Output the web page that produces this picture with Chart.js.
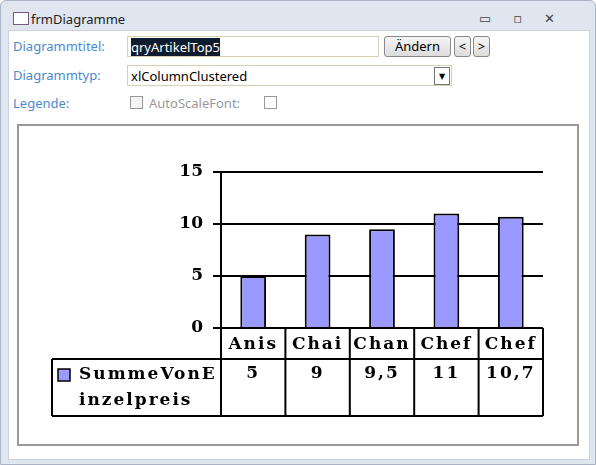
<!DOCTYPE html>
<html>
<head>
<meta charset="utf-8">
<script src="https://cdn.jsdelivr.net/npm/chart.js@4/dist/chart.umd.min.js"></script>
<style>
body { margin:0; width:596px; height:465px; background:#fff; font-family:"Noto Sans", "DejaVu Sans", sans-serif; font-size:13px; overflow:hidden; }
.win { position:absolute; left:0; top:0; width:594px; height:463px; border:1px solid #aab4c4; background:#dfe6f0; border-radius:6px 6px 0 0; }
.title { position:absolute; left:30px; top:9px; color:#222; font-size:13px; }
.icon { position:absolute; left:12px; top:11px; width:14px; height:11px; border:1px solid #7a5a7a; background:#fff; }
.btns { position:absolute; right:18px; top:8px; color:#444; font-size:13px; letter-spacing:22px; }
.client { position:absolute; left:8px; top:30px; width:580px; height:428px; background:#fff; border:1px solid #c9d2de; }
.lbl { position:absolute; color:#4a8ad0; font-size:13px; }
.box { position:absolute; border:1px solid #d8d0b0; background:#fff; height:21px; box-sizing:border-box; padding:1px 3px; font-size:13px; }
.btn { position:absolute; border:1px solid #8a8a8a; border-radius:3px; background:linear-gradient(#f6f6f6,#dcdcdc); height:21px; box-sizing:border-box; text-align:center; font-size:13px; line-height:19px; }
.chk { position:absolute; width:11px; height:11px; border:1px solid #999; background:#f4f4f4; }
.frame { position:absolute; left:17px; top:124px; width:562px; height:322px; border:2px solid #999; box-sizing:border-box; background:#fff; }
canvas { position:absolute; left:0; top:0; }
</style>
</head>
<body>
<div class="win">
  <div class="icon"></div>
  <div class="title">frmDiagramme</div>
  <div class="btns">▭▫✕</div>
</div>
<div class="client"></div>
<div class="lbl" style="left:13px;top:37px">Diagrammtitel:</div>
<div class="box" style="left:127px;top:36px;width:252px;"><span style="background:#0f1c30;color:#fff">qryArtikelTop5</span></div>
<div class="btn" style="left:384px;top:36px;width:67px;">Ändern</div>
<div class="btn" style="left:454px;top:36px;width:17px;">&lt;</div>
<div class="btn" style="left:473px;top:36px;width:17px;">&gt;</div>
<div class="lbl" style="left:13px;top:66px">Diagrammtyp:</div>
<div class="box" style="left:127px;top:65px;width:325px;">xlColumnClustered<span style="position:absolute;right:1px;top:1px;width:14px;height:16px;border:1px solid #777;font-size:8px;text-align:center;line-height:16px;">▼</span></div>
<div class="lbl" style="left:13px;top:94px">Legende:</div>
<div class="chk" style="left:130px;top:96px"></div>
<div class="lbl" style="left:149px;top:94px;color:#999">AutoScaleFont:</div>
<div class="chk" style="left:264px;top:96px;background:#fff"></div>
<div class="frame"><canvas id="myChart" width="558" height="318"></canvas></div>
<script>
var categories = ["Anis", "Chai", "Chan", "Chef", "Chef"];
var values = [5, 9, 9.5, 11, 10.7];
var valueLabels = ["5", "9", "9,5", "11", "10,7"];
var seriesName = ["SummeVonE", "inzelpreis"];

var FONT = 'bold 17px "DejaVu Serif"';

var tablePlugin = {
  id: 'dataTable',
  afterDraw: function (chart) {
    var ctx = chart.ctx, x = chart.scales.x, a = chart.chartArea;
    var half = (x.getPixelForValue(1) - x.getPixelForValue(0)) / 2;
    var r1 = a.bottom + 31, r2 = a.bottom + 88, legL = 33;
    ctx.save();
    ctx.strokeStyle = '#000'; ctx.lineWidth = 2;
    ctx.beginPath();
    ctx.moveTo(a.left, r1 - 31); ctx.lineTo(a.right, r1 - 31);
    ctx.moveTo(legL, r1); ctx.lineTo(a.right, r1);
    ctx.moveTo(legL, r2); ctx.lineTo(a.right, r2);
    ctx.moveTo(legL, r1); ctx.lineTo(legL, r2);
    for (var i = 0; i <= categories.length; i++) {
      var px = x.getPixelForValue(0) - half + i * half * 2;
      ctx.moveTo(px, a.bottom); ctx.lineTo(px, r2);
    }
    ctx.stroke();
    ctx.font = FONT; ctx.fillStyle = '#000';
    ctx.letterSpacing = '2px';
    ctx.textAlign = 'center'; ctx.textBaseline = 'middle';
    categories.forEach(function (c, i) {
      var px = x.getPixelForValue(i);
      ctx.fillText(c, px, a.bottom + 17);
      ctx.fillText(valueLabels[i], px, r1 + 15);
    });
    ctx.textAlign = 'left';
    ctx.fillText(seriesName[0], 60, r1 + 16);
    ctx.fillText(seriesName[1], 60, r1 + 42);
    ctx.fillStyle = '#9999ff';
    ctx.fillRect(39, r1 + 10, 12, 12);
    ctx.lineWidth = 1.5; ctx.strokeRect(39, r1 + 10, 12, 12);
    ctx.restore();
  }
};

var ctx = document.getElementById("myChart").getContext('2d');
var myChart = new Chart(ctx, {
  type: 'bar',
  data: {
    labels: categories,
    datasets: [{
      label: seriesName.join(''),
      data: values,
      backgroundColor: '#9999ff',
      borderColor: '#000',
      borderWidth: 2,
      barPercentage: 0.4,
      categoryPercentage: 1
    }]
  },
  options: {
    responsive: false,
    animation: false,
    layout: { padding: { top: 46, bottom: 116, right: 34, left: 0 } },
    scales: {
      x: { display: false },
      y: {
        min: 0, max: 15,
        ticks: { stepSize: 5, color: '#000', font: { family: 'DejaVu Serif', size: 17, weight: 'bold' }, padding: 10 },
        grid: { color: '#000', lineWidth: 2, tickLength: 8 },
        border: { color: '#000', width: 2 },
        afterFit: function (s) { s.width = 202; }
      }
    },
    plugins: { legend: { display: false }, tooltip: { enabled: false } }
  },
  plugins: [tablePlugin]
});
</script>
</body>
</html>
